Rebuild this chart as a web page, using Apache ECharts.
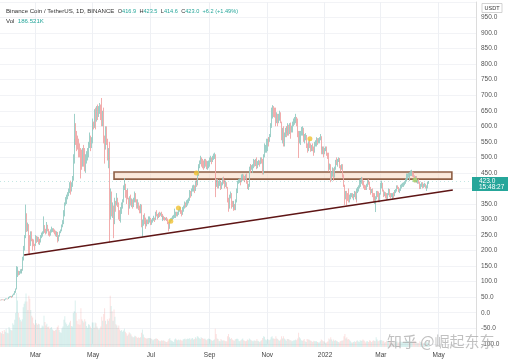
<!DOCTYPE html>
<html><head><meta charset="utf-8">
<script src="https://cdn.jsdelivr.net/npm/echarts@6/dist/echarts.min.js"></script>
<style>html,body{margin:0;padding:0;background:#fff}#c{width:512px;height:364px}</style>
</head><body><div id="c"></div>
<script>
// ---- categories (daily) ----
const startDate = '2021-01-23';
const axisEndDate = '2022-06-09';
const monthNames = ['Jan','Feb','Mar','Apr','May','Jun','Jul','Aug','Sep','Oct','Nov','Dec'];
const labelMonths = [0, 2, 4, 6, 8, 10];

// ---- daily BNB/USDT, 2021-01-23 .. 2022-04-21 ----
const firstOpen = 41.0;
const close = [
 40.5,42.3,41.6,41.3,39.4,42.9,44.6,44.8,44.0,
 49.6,52.1,52.5,51.2,57.5,60,66.2,76,128.5,132,127,129.5,136,132,138,175,210,245,300,275,282,246,228,252,232,222,221,216,
 241,231,240,224,232,230,247,251,257,278,266,260,281,268,257,256,264,265,269,262,258,253,254,240,232,247,260,265,279,291,318,
 350,360,370,380,390,410,395,415,430,490,535,590,560,555,545,530,520,490,480,510,500,480,495,505,510,540,560,540,550,600,
 610,600,650,620,660,645,650,660,640,620,640,560,530,590,545,510,520,500,340,380,330,340,290,360,350,365,350,310,300,330,350,
 360,400,410,385,375,390,370,355,365,355,360,355,365,380,360,345,350,340,335,345,285,290,305,302,288,285,295,290,300,305,
 290,295,300,305,300,320,315,310,318,315,318,315,305,308,305,300,302,300,290,275,295,298,302,305,310,318,320,315,320,330,333,
 330,325,320,335,340,350,345,355,360,365,385,380,395,400,405,395,420,415,445,460,470,480,490,485,480,470,485,480,470,475,480,
 490,495,490,498,505,505,440,415,420,410,415,420,405,415,430,425,410,418,405,360,340,375,380,355,350,345,345,335,360,395,
 420,425,428,425,440,440,435,430,440,420,405,410,460,470,465,470,470,485,480,485,470,480,485,480,495,485,450,505,525,530,530,
 550,560,555,570,600,640,650,648,640,620,635,620,630,640,615,570,590,540,570,590,590,580,600,580,600,585,595,610,615,620,
 625,615,580,560,570,575,585,590,575,560,565,570,540,530,545,540,530,535,530,520,540,545,555,550,555,560,565,530,520,525,512,
 525,530,510,505,470,475,440,445,460,440,465,485,480,490,495,490,470,465,470,440,410,370,385,375,370,365,375,378,380,375,378,
 385,370,365,395,395,405,420,420,430,420,410,405,400,410,425,420,400,390,395,380,365,375,365,370,385,380,360,380,
 410,415,395,380,385,375,370,380,395,380,375,378,370,380,378,390,395,405,402,395,395,405,410,415,415,418,430,430,440,445,430,
 445,448,452,448,440,425,435,420,425,420,400,410,415,405,410,412,405,405,415,417,423.0
];
const high = [
 42,43,43,42.5,41.5,43.5,46,46,45.5,
 51,53,54,54,58,62,70,78,150,148,135,134,140,141,140,180,215,250,348,320,290,285,250,262,262,238,236,222,
 250,247,245,244,237,238,250,258,262,310,282,270,292,283,270,262,268,277,272,272,268,264,262,260,244,250,262,268,284,298,330,
 355,372,380,388,400,420,425,420,440,510,560,640,610,585,570,560,545,530,525,530,540,530,510,520,530,550,580,570,565,610,
 625,615,655,660,665,670,665,675,670,691,650,660,570,600,600,560,530,550,500,400,390,355,345,370,360,385,370,355,330,340,355,
 365,410,433,415,395,400,395,370,375,380,368,365,370,390,385,365,365,355,345,350,348,300,315,320,306,295,300,300,310,310,
 305,300,305,312,306,325,330,318,322,325,322,325,318,312,312,308,306,308,303,292,298,304,306,312,315,335,325,325,325,333,340,
 340,335,330,340,345,358,355,362,365,370,395,392,400,410,412,410,425,428,450,470,478,490,505,500,495,490,495,495,490,488,490,
 500,505,500,505,512,515,510,445,430,430,425,428,425,420,435,438,428,425,420,405,370,380,390,385,360,358,360,350,365,400,
 425,430,432,432,445,447,445,440,445,448,425,415,470,478,478,475,478,495,492,495,500,488,492,490,500,500,495,510,545,540,560,
 560,565,565,575,610,660,668,665,660,660,645,640,640,650,645,615,595,600,580,595,600,600,610,605,610,612,602,615,625,630,
 640,630,625,585,585,585,598,600,595,580,575,578,572,545,552,558,545,540,545,535,550,555,565,562,562,565,575,568,535,535,535,
 530,535,535,515,515,480,478,455,468,465,470,492,500,495,500,498,492,475,478,478,445,412,392,392,385,400,380,385,385,385,382,
 392,390,375,400,405,410,428,430,437,435,425,412,410,415,428,430,422,405,398,400,385,380,385,375,392,392,390,385,
 418,425,418,396,390,388,385,385,400,398,385,385,382,385,388,395,398,410,410,405,400,412,415,418,420,422,432,448,448,450,450,
 452,458,460,455,452,442,440,440,428,430,422,415,420,420,415,418,415,410,418,422,423.5
];
const low = [
 39.5,40,40.5,40,38.5,39,42,43.5,43,
 44,48,50,48,50,56,58,64,75,115,120,122,126,128,126,135,168,200,240,260,262,190,185,215,230,200,214,200,
 215,225,228,220,218,226,226,240,245,254,257,252,255,262,248,245,248,258,260,258,252,246,244,236,226,230,245,256,262,275,285,
 310,345,350,365,375,385,380,390,405,425,480,530,540,520,525,500,500,432,460,470,470,455,450,480,490,500,530,520,530,545,
 585,590,595,590,615,620,630,640,620,600,600,545,480,525,540,490,465,495,225,300,310,305,240,285,325,345,340,300,295,290,318,
 335,355,395,370,350,370,365,315,335,345,340,335,340,355,355,335,335,330,320,320,275,244,280,285,280,270,278,285,285,290,
 282,283,290,296,292,298,310,300,305,308,312,308,300,295,298,296,298,295,285,262,270,290,295,298,302,305,305,310,310,315,325,
 322,318,310,315,325,335,338,340,345,352,360,370,375,390,390,385,392,405,410,440,455,465,478,470,465,460,465,470,462,460,465,
 470,485,478,485,492,495,372,395,405,400,400,408,395,398,410,415,400,405,400,355,325,335,368,335,340,328,335,330,330,355,
 385,415,418,410,420,425,425,420,428,415,398,395,405,455,450,460,450,465,470,472,462,465,475,470,478,480,445,445,500,515,515,
 520,545,535,550,565,595,625,630,628,600,610,600,610,618,610,555,545,535,535,565,578,565,570,570,575,560,580,580,600,605,
 610,600,565,498,545,540,570,570,565,550,545,555,530,515,520,530,518,520,520,505,515,535,535,540,545,545,555,525,510,510,500,
 510,520,505,495,455,460,420,425,438,425,435,460,475,470,485,480,465,455,460,435,405,347,365,345,360,355,355,365,372,368,362,
 372,365,355,362,385,390,400,405,415,410,400,395,395,395,405,412,395,380,385,372,355,350,360,324,365,372,355,355,
 380,400,390,372,375,368,362,365,378,372,368,372,365,365,368,375,385,390,398,388,385,392,400,405,405,410,415,422,428,435,425,
 425,440,440,438,435,420,420,418,415,415,398,398,405,400,402,405,400,392,400,410,414.6
];
const volume = [
 2600,2400,2800,2300,3000,2700,3200,2500,2400,
 3500,3200,3000,2900,4200,3900,4800,6000,9500,8200,6000,5200,4800,4500,4900,7000,7600,8000,9400,8000,6500,9000,8500,6500,5500,5200,4200,3900,
 4800,4200,3900,4100,4000,3300,3400,3800,3600,5500,4400,3800,4100,3500,3600,3200,3400,3500,3100,2900,2800,3000,3100,3500,3800,3000,2600,2500,3300,3600,4800,
 5400,4300,4000,3700,3900,4300,4600,3700,3600,6000,6300,8200,6000,4600,4000,4900,3900,6800,4900,4600,4300,4900,4500,3700,3400,4000,3900,3600,3300,4300,
 4300,3400,4300,4200,3600,3300,3100,3300,3600,5300,4600,5800,6800,4600,4000,4900,4600,5000,9000,7200,6300,4600,6600,5300,4000,3800,3400,3800,3100,2800,3000,
 2700,2900,3200,2700,2400,2000,2200,2600,2400,2200,1900,1700,1700,2000,1900,1700,1600,1700,1600,1700,2500,3100,2200,1700,1600,1500,1500,1600,1600,1600,
 1500,1400,1200,1300,1400,1500,1500,1400,1200,1100,1000,1200,1100,1200,1100,1000,900,900,1100,1400,1600,1200,1100,1000,900,1300,1500,1300,1200,1300,1200,
 1300,1200,1100,1300,1400,1500,1300,1400,1500,1400,1600,1300,1500,1600,1300,1400,1700,1500,1900,1800,1600,1400,1700,1600,1500,1400,1500,1300,1200,1400,1500,
 1400,1300,1200,1100,1200,1300,3200,2300,1500,1400,1100,1000,1400,1200,1100,1200,1100,1000,1000,1900,2300,1700,1400,1600,1300,1200,1100,1300,1400,1500,
 1400,1100,1000,1200,1300,1500,1200,1100,1000,1100,1300,1200,1500,1300,1200,1100,1000,1200,1100,1100,1400,1100,1000,900,1100,1200,1600,1900,1800,1300,1200,
 1400,1300,1200,1300,1700,1900,1500,1500,1400,1900,1500,1400,1200,1100,1300,1900,1500,1900,1500,1300,1100,1400,1400,1300,1200,1200,1000,1100,1200,1200,
 1300,1200,1500,2500,1700,1500,1200,1100,1200,1400,1000,900,1400,1300,1300,1200,1100,1000,900,1100,1000,1000,1000,900,800,800,1000,1300,1200,1000,1000,
 800,700,900,1000,1500,1300,1700,1300,1000,1300,1100,1200,1100,1000,900,800,1000,1100,1100,1200,1900,2300,1500,1700,1300,1400,1200,1000,800,800,900,
 1000,900,1000,1200,1000,900,1200,1100,1100,1300,1200,1000,800,1000,1000,900,1200,1100,900,1000,1200,1100,1000,1700,1300,1000,1100,1200,
 1200,1200,1000,1100,800,900,1100,1000,1100,1000,1000,700,800,900,900,1000,900,1000,800,800,900,1000,900,900,800,800,900,1200,1100,1000,900,
 900,1000,900,1000,900,1100,900,800,700,700,1000,900,800,800,700,600,600,900,800,800,187
];

// ---- annotations ----
const trendLine = [['2021-02-17', 186], ['2022-05-16', 395]];
const zoneBox = [['2021-05-23', 453], ['2022-05-15', 430]];
const markerDates = ['2021-07-22', '2021-07-30', '2021-08-18', '2021-12-16'];
const markerValues = [294, 337, 450, 560];
const greenMarker = ['2022-04-06', 427];
const lastPrice = 423.0;

// build categories
function fmt(t){const d=new Date(t);return d.getUTCFullYear()+'-'+String(d.getUTCMonth()+1).padStart(2,'0')+'-'+String(d.getUTCDate()).padStart(2,'0');}
const dates=[];
{let t=Date.parse(startDate+'T00:00:00Z');const e=Date.parse(axisEndDate+'T00:00:00Z');while(t<=e){dates.push(fmt(t));t+=86400000;}}

const candles=[], vols=[];
for(let i=0;i<close.length;i++){
  const o = i===0 ? firstOpen : close[i-1];
  candles.push([o, close[i], low[i], high[i]]);
  const up = close[i] >= o;
  vols.push({value: volume[i], itemStyle:{color: up ? 'rgba(38,166,154,0.17)' : 'rgba(239,83,80,0.17)'}});
}
const isLabelDay = (idx, val) => { const v = dates[idx] || val; return v.slice(8)==='01' && labelMonths.indexOf(+v.slice(5,7)-1)>=0; };
const FONT = 'Liberation Sans';

const chart = echarts.init(document.getElementById('c'), null, {renderer:'canvas'});
chart.setOption({
  animation:false,
  backgroundColor:'#ffffff',
  grid:[
    {left:0, right:36, top:2, bottom:20.2},
    {left:0, right:36, top:293, bottom:17}
  ],
  xAxis:[
    {type:'category', data:dates, gridIndex:0, boundaryGap:true,
     axisLine:{show:false}, axisTick:{show:false}, axisLabel:{show:false},
     splitLine:{show:true, interval:isLabelDay, lineStyle:{color:'#eef0f4', width:1}}},
    {type:'category', data:dates, gridIndex:1, boundaryGap:true,
     axisLine:{show:false}, axisTick:{show:false},
     axisLabel:{show:true, interval:isLabelDay, margin:5, fontSize:6.5, color:'#444', fontFamily:FONT,
       formatter:(v)=>{const m=+v.slice(5,7)-1; return m===0 ? v.slice(0,4) : monthNames[m];}},
     splitLine:{show:false}}
  ],
  yAxis:[
    {type:'value', gridIndex:0, position:'right', min:-100, max:1000, interval:50,
     axisLine:{show:true, lineStyle:{color:'#dcdcdc'}}, axisTick:{show:false},
     axisLabel:{show:true, margin:5, fontSize:6.5, color:'#555', fontFamily:FONT, showMaxLabel:false,
       formatter:(v)=>v.toFixed(1)},
     splitLine:{show:true, lineStyle:{color:'#f2f3f6', width:1}}},
    {type:'value', gridIndex:1, min:0, max:9500, show:false, splitLine:{show:false}}
  ],
  series:[
    {type:'bar', xAxisIndex:1, yAxisIndex:1, data:vols, barWidth:0.8, silent:true, z:1},
    {type:'candlestick', xAxisIndex:0, yAxisIndex:0, data:candles, barWidth:0.7, z:3,
     itemStyle:{color:'#93cbc3', color0:'#f0a4a4', borderColor:'#93cbc3', borderColor0:'#f0a4a4', borderWidth:0.9},
     markArea:{silent:true, z:2,
       itemStyle:{color:'rgba(248,218,196,0.6)', borderColor:'#8e5f45', borderWidth:1.6},
       data:[[{coord:zoneBox[0]}, {coord:zoneBox[1]}]]},
     markLine:{silent:true, symbol:['none','none'], animation:false, label:{show:false},
       data:[
         [{coord:trendLine[0], lineStyle:{color:'#5e1515', width:1.6, type:'solid'}}, {coord:trendLine[1]}],
         {yAxis:lastPrice, lineStyle:{color:'#26a69a', width:0.8, type:[1,3], opacity:0.35}}
       ]}
    },
    {type:'scatter', xAxisIndex:0, yAxisIndex:0, symbolSize:5, z:4, silent:true,
     itemStyle:{color:'#f1c232'},
     data: markerDates.map((d,i)=>[d, markerValues[i]])},
    {type:'scatter', xAxisIndex:0, yAxisIndex:0, symbolSize:5, z:4, silent:true,
     itemStyle:{color:'#a5d46a'}, data:[greenMarker]}
  ],
  graphic:[
    {type:'text', left:6, top:5.5, z:10, style:{
      text:'{a|Binance Coin / TetherUS, 1D, BINANCE} {b|O}{g|416.9} {b|H}{g|423.5} {b|L}{g|414.6} {b|C}{g|423.0} {g|+6.2 (+1.49%)}',
      rich:{a:{fontSize:6.1, fill:'#333', fontFamily:FONT}, b:{fontSize:5.6, fill:'#333', fontFamily:FONT}, g:{fontSize:5.6, fill:'#26a69a', fontFamily:FONT}}}},
    {type:'text', left:6, top:15.5, z:10, style:{
      text:'{a|Vol} {g|186.521K}',
      rich:{a:{fontSize:6.1, fill:'#333', fontFamily:FONT}, g:{fontSize:6.1, fill:'#26a69a', fontFamily:FONT}}}},
    {type:'rect', shape:{x:482, y:3.5, width:20, height:9}, z:10, style:{fill:'#fff', stroke:'#c8c8c8', lineWidth:0.8}},
    {type:'text', x:492, y:8, z:11, style:{text:'USDT', fontSize:5.5, fill:'#333', fontFamily:FONT, align:'center', verticalAlign:'middle'}},
    {type:'rect', shape:{x:472, y:177, width:36, height:14}, z:10, style:{fill:'#26a69a'}},
    {type:'text', x:479, y:181, z:11, style:{text:'423.0', fontSize:6.5, fill:'#fff', fontFamily:FONT, verticalAlign:'middle'}},
    {type:'text', x:479, y:187.5, z:11, style:{text:'15:48:27', fontSize:6.5, fill:'#fff', fontFamily:FONT, verticalAlign:'middle'}},
    {type:'text', x:387, y:341, z:12, style:{text:'知乎 @崛起东东', fontSize:15, fill:'rgba(165,165,165,0.7)', fontFamily:'Noto Sans CJK SC', verticalAlign:'middle'}}
  ]
});
</script></body></html>
